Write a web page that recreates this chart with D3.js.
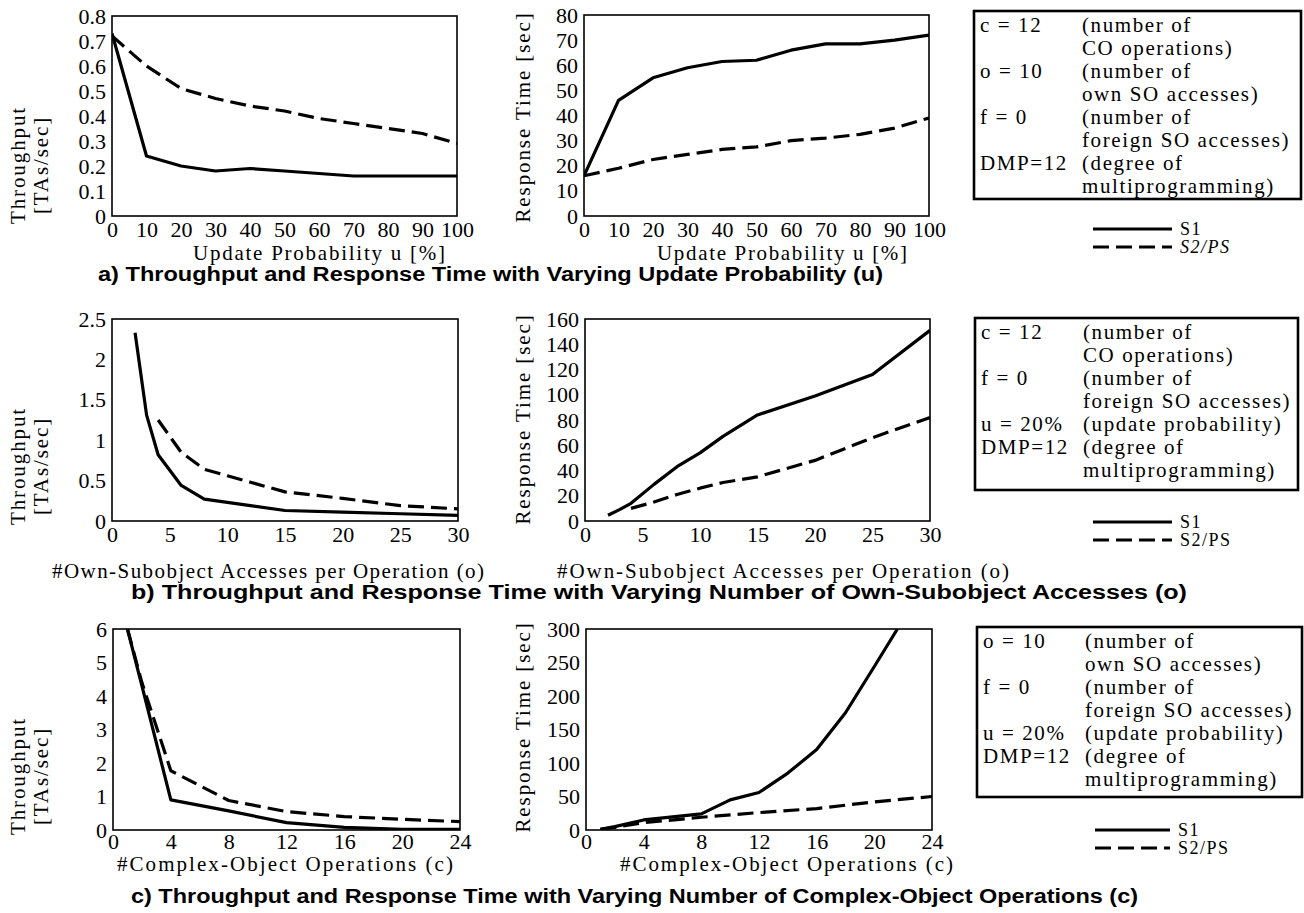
<!DOCTYPE html>
<html>
<head>
<meta charset="utf-8">
<script src="https://cdn.jsdelivr.net/npm/d3@7"></script>
<style>
  body { margin: 0; background: #fff; }
</style>
</head>
<body>
<div id="fig"></div>
<script>
// ---- values ----
// a) varying update probability u
const uVals   = [0, 10, 20, 30, 40, 50, 60, 70, 80, 90, 100];
const thrU_S1 = [0.73, 0.24, 0.20, 0.18, 0.19, 0.18, 0.17, 0.16, 0.16, 0.16, 0.16];
const thrU_S2 = [0.72, 0.60, 0.51, 0.47, 0.44, 0.42, 0.39, 0.37, 0.35, 0.33, 0.29];
const rtU_S1  = [16, 46, 55, 59, 61.5, 62, 66, 68.5, 68.5, 70, 72];
const rtU_S2  = [16, 19, 22.5, 24.5, 26.5, 27.5, 30, 31, 32.5, 35, 39];

// b) varying own-subobject accesses o
const oVals_S1 = [2, 3, 4, 6, 8, 10, 12, 15, 20, 25, 30];
const oVals_S2 = [4, 6, 8, 10, 12, 15, 20, 25, 30];
const thrO_S1  = [2.33, 1.31, 0.82, 0.44, 0.27, 0.23, 0.19, 0.13, 0.11, 0.09, 0.07];
const thrO_S2  = [1.25, 0.85, 0.64, 0.56, 0.48, 0.36, 0.28, 0.19, 0.15];
const rtO_S1   = [4.6, 9, 14, 29, 43, 54, 67, 84, 99, 116, 151];
const rtO_S2   = [10, 15, 21, 26, 30.5, 35, 48, 66, 82];

// c) varying complex-object operations c
const cVals      = [1, 2, 4, 8, 12, 16, 20, 24];
const thrC_S1    = [6.0, 4.3, 0.9, 0.57, 0.22, 0.08, 0.02, 0.02];
const thrC_S2    = [6.0, 4.4, 1.77, 0.88, 0.55, 0.40, 0.32, 0.25];
const cValsRt_S1 = [1, 2, 4, 8, 10, 12, 14, 16, 18, 20, 21.6];
const rtC_S1     = [1, 5, 15, 24, 45, 56, 85, 120, 175, 244, 300];
const rtC_S2     = [1, 4, 11, 19, 26, 32, 42, 50];

// tick labels
const uTicks    = [0, 10, 20, 30, 40, 50, 60, 70, 80, 90, 100];
const thrUTicks = [0, 0.1, 0.2, 0.3, 0.4, 0.5, 0.6, 0.7, 0.8];
const rtUTicks  = [0, 10, 20, 30, 40, 50, 60, 70, 80];
const oTicks    = [0, 5, 10, 15, 20, 25, 30];
const thrOTicks = [0, 0.5, 1, 1.5, 2, 2.5];
const rtOTicks  = [0, 20, 40, 60, 80, 100, 120, 140, 160];
const cTicks    = [0, 4, 8, 12, 16, 20, 24];
const thrCTicks = [0, 1, 2, 3, 4, 5, 6];
const rtCTicks  = [0, 50, 100, 150, 200, 250, 300];

// parameter boxes
const paramsA = [["c = 12", "(number of"], ["", "CO operations)"], ["o = 10", "(number of"], ["", "own SO accesses)"],
                 ["f = 0", "(number of"], ["", "foreign SO accesses)"], ["DMP=12", "(degree of"], ["", "multiprogramming)"]];
const paramsB = [["c = 12", "(number of"], ["", "CO operations)"], ["f = 0", "(number of"], ["", "foreign SO accesses)"],
                 ["u = 20%", "(update probability)"], ["DMP=12", "(degree of"], ["", "multiprogramming)"]];
const paramsC = [["o = 10", "(number of"], ["", "own SO accesses)"], ["f = 0", "(number of"], ["", "foreign SO accesses)"],
                 ["u = 20%", "(update probability)"], ["DMP=12", "(degree of"], ["", "multiprogramming)"]];

const captions = [
  "a) Throughput and Response Time with Varying Update Probability (u)",
  "b) Throughput and Response Time with Varying Number of Own-Subobject Accesses (o)",
  "c) Throughput and Response Time with Varying Number of Complex-Object Operations (c)"
];

const SERIF = "'Liberation Serif', 'Times New Roman', serif";
const SANS = "'Liberation Sans', Arial, Helvetica, sans-serif";
const DASH = "16,7";

const svg = d3.select("#fig").append("svg")
    .attr("width", 1304)
    .attr("height", 913)
    .style("background", "#fff");

const zip = (xs, ys) => xs.map((x, i) => [x, ys[i]]);

let clipId = 0;
function drawPlot(p) {
    const x = d3.scaleLinear().domain(p.xDomain).range([p.x0, p.x1]);
    const y = d3.scaleLinear().domain(p.yDomain).range([p.y1, p.y0]);

    const id = "clip" + (clipId++);
    svg.append("clipPath").attr("id", id)
        .append("rect")
        .attr("x", p.x0).attr("y", p.y0)
        .attr("width", p.x1 - p.x0).attr("height", p.y1 - p.y0);

    const line = d3.line().x(d => x(d[0])).y(d => y(d[1]));
    const lines = svg.append("g").attr("clip-path", "url(#" + id + ")");
    p.series.forEach(s => {
        lines.append("path")
            .attr("d", line(zip(s.x, s.y)))
            .attr("fill", "none")
            .attr("stroke", "#000")
            .attr("stroke-width", 3.2)
            .attr("stroke-linejoin", "round")
            .attr("stroke-dasharray", s.dashed ? DASH : null);
    });

    // frame
    svg.append("rect")
        .attr("x", p.x0).attr("y", p.y0)
        .attr("width", p.x1 - p.x0).attr("height", p.y1 - p.y0)
        .attr("fill", "none").attr("stroke", "#000").attr("stroke-width", 1.6);

    const xAxis = svg.append("g")
        .attr("transform", "translate(0," + p.y1 + ")")
        .call(d3.axisBottom(x).tickValues(p.xTicks).tickSize(0).tickPadding(p.pad).tickFormat(d => String(d)));
    const yAxis = svg.append("g")
        .attr("transform", "translate(" + p.x0 + ",0)")
        .call(d3.axisLeft(y).tickValues(p.yTicks).tickSize(0).tickPadding(6).tickFormat(d => String(d)));
    [xAxis, yAxis].forEach(a => {
        a.select(".domain").remove();
        a.selectAll("text").attr("font-family", SERIF).attr("font-size", 22).attr("fill", "#000");
    });

    // x title
    svg.append("text")
        .attr("x", p.xt[0]).attr("y", p.xt[1])
        .attr("textLength", p.xt[2]).attr("lengthAdjust", "spacing")
        .attr("font-family", SERIF).attr("font-size", 21)
        .text(p.xTitle);

    // y title (rotated, one or two lines)
    p.yTitle.forEach((t, i) => {
        svg.append("text")
            .attr("transform", "translate(" + p.yt[i][0] + "," + p.yt[i][1] + ") rotate(-90)")
            .attr("text-anchor", "middle")
            .attr("font-family", SERIF).attr("font-size", 21)
            .attr("letter-spacing", 1.9)
            .text(t);
    });
}

function drawParams(b, rows, italicPS) {
    svg.append("rect")
        .attr("x", b.x0).attr("y", b.y0)
        .attr("width", b.x1 - b.x0).attr("height", b.y1 - b.y0)
        .attr("fill", "none").attr("stroke", "#000").attr("stroke-width", 2.6);
    const first = b.y0 + 21, step = 23;
    rows.forEach((r, i) => {
        const yy = first + i * step;
        [[r[0], b.x0 + 6], [r[1], b.x0 + 108]].forEach(([t, xx]) => {
            if (!t) return;
            svg.append("text")
                .attr("x", xx).attr("y", yy)
                .attr("font-family", SERIF).attr("font-size", 21)
                .attr("letter-spacing", 1.6)
                .text(t);
        });
    });
    // line style key
    const keys = [["S1", null, b.k1], ["S2/PS", DASH, b.k2]];
    keys.forEach(([lab, dash, ky]) => {
        svg.append("line")
            .attr("x1", b.kx0).attr("x2", b.kx1).attr("y1", ky).attr("y2", ky)
            .attr("stroke", "#000").attr("stroke-width", 3)
            .attr("stroke-dasharray", dash);
        svg.append("text")
            .attr("x", b.kx1 + 8).attr("y", ky + 6)
            .attr("font-family", SERIF).attr("font-size", 18)
            .attr("letter-spacing", 1.5)
            .attr("font-style", (italicPS && dash) ? "italic" : null)
            .text(lab);
    });
}

function caption(t, x, y, w) {
    svg.append("text")
        .attr("x", x).attr("y", y)
        .attr("textLength", w).attr("lengthAdjust", "spacingAndGlyphs")
        .attr("font-family", SANS).attr("font-size", 20).attr("font-weight", "bold")
        .text(t);
}

// ---- row a ----
drawPlot({x0: 112, x1: 457, y0: 16, y1: 216, xDomain: [0, 100], yDomain: [0, 0.8],
    xTicks: uTicks, yTicks: thrUTicks, pad: 5,
    series: [{x: uVals, y: thrU_S1}, {x: uVals, y: thrU_S2, dashed: true}],
    xTitle: "Update Probability u [%]", xt: [193, 260, 252],
    yTitle: ["Throughput", "[TAs/sec]"], yt: [[25, 165], [48, 165]]});
drawPlot({x0: 584, x1: 929, y0: 15, y1: 216, xDomain: [0, 100], yDomain: [0, 80],
    xTicks: uTicks, yTicks: rtUTicks, pad: 5,
    series: [{x: uVals, y: rtU_S1}, {x: uVals, y: rtU_S2, dashed: true}],
    xTitle: "Update Probability u [%]", xt: [657, 260, 250],
    yTitle: ["Response Time [sec]"], yt: [[530, 117]]});
drawParams({x0: 974, x1: 1301, y0: 11, y1: 199, kx0: 1093, kx1: 1172, k1: 229, k2: 247}, paramsA, true);
caption(captions[0], 98, 281, 785);

// ---- row b ----
drawPlot({x0: 112, x1: 458, y0: 319, y1: 521, xDomain: [0, 30], yDomain: [0, 2.5],
    xTicks: oTicks, yTicks: thrOTicks, pad: 5,
    series: [{x: oVals_S1, y: thrO_S1}, {x: oVals_S2, y: thrO_S2, dashed: true}],
    xTitle: "#Own-Subobject Accesses per Operation (o)", xt: [52, 578, 432],
    yTitle: ["Throughput", "[TAs/sec]"], yt: [[25, 466], [48, 466]]});
drawPlot({x0: 585, x1: 930, y0: 319, y1: 521, xDomain: [0, 30], yDomain: [0, 160],
    xTicks: oTicks, yTicks: rtOTicks, pad: 5,
    series: [{x: oVals_S1, y: rtO_S1}, {x: oVals_S2, y: rtO_S2, dashed: true}],
    xTitle: "#Own-Subobject Accesses per Operation (o)", xt: [557, 578, 452],
    yTitle: ["Response Time [sec]"], yt: [[530, 419]]});
drawParams({x0: 975, x1: 1298, y0: 318, y1: 490, kx0: 1093, kx1: 1172, k1: 522, k2: 540}, paramsB, false);
caption(captions[1], 131, 599, 1056);

// ---- row c ----
drawPlot({x0: 113, x1: 460, y0: 629, y1: 830, xDomain: [0, 24], yDomain: [0, 6],
    xTicks: cTicks, yTicks: thrCTicks, pad: 3,
    series: [{x: cVals, y: thrC_S1}, {x: cVals, y: thrC_S2, dashed: true}],
    xTitle: "#Complex-Object Operations (c)", xt: [117, 871, 336],
    yTitle: ["Throughput", "[TAs/sec]"], yt: [[25, 776], [48, 776]]});
drawPlot({x0: 586, x1: 932, y0: 629, y1: 830, xDomain: [0, 24], yDomain: [0, 300],
    xTicks: cTicks, yTicks: rtCTicks, pad: 3,
    series: [{x: cValsRt_S1, y: rtC_S1}, {x: cVals, y: rtC_S2, dashed: true}],
    xTitle: "#Complex-Object Operations (c)", xt: [620, 871, 333],
    yTitle: ["Response Time [sec]"], yt: [[530, 727]]});
drawParams({x0: 977, x1: 1302, y0: 627, y1: 797, kx0: 1095, kx1: 1170, k1: 830, k2: 848}, paramsC, false);
caption(captions[2], 131, 903, 1007);
</script>
</body>
</html>
